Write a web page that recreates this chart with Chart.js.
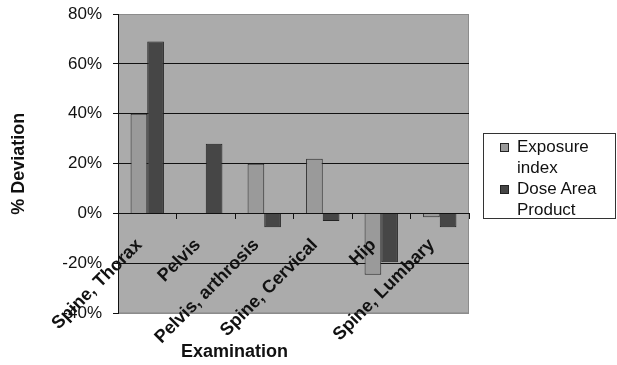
<!DOCTYPE html>
<html>
<head>
<meta charset="utf-8">
<script src="https://cdn.jsdelivr.net/npm/chart.js@4/dist/chart.umd.min.js"></script>
<style>
html, body { margin: 0; padding: 0; background: #fff; }
#wrap { position: relative; width: 617px; height: 365px; }
#legend { position: absolute; left: 483px; top: 133px; width: 133px; height: 86px; border: 1px solid #333;
  background: #fff; font: 17px "Liberation Sans", Arial, sans-serif; color: #111; padding-top: 2px; box-sizing: border-box; }
.item { position: relative; padding-left: 33px; line-height: 21px; }
.sw { position: absolute; left: 16px; top: 7px; width: 7px; height: 7px; border: 1px solid #222; }
</style>
</head>
<body>
<div id="wrap">
  <canvas id="chart" width="617" height="365"></canvas>
  <div id="legend"></div>
</div>
<script>
// data (% deviation)
var categories = ['Spine, Thorax', 'Pelvis', 'Pelvis, arthrosis', 'Spine, Cervical', 'Hip', 'Spine, Lumbary'];
var exposureIndex = [40, 0, 20, 22, -24.5, -1.5];
var doseAreaProduct = [69, 28, -5.5, -3, -19.5, -5.5];
var seriesNames = [['Exposure', 'index'], ['Dose Area', 'Product']];
var seriesColors = ['#9a9a9a', '#464646'];
var yMin = -40, yMax = 80, yStep = 20;

var font = '"Liberation Sans", Arial, sans-serif';

// grey plot area behind everything
var plotBg = {
  id: 'plotBg',
  beforeDraw: function(chart) {
    var ctx = chart.ctx, a = chart.chartArea;
    ctx.save();
    ctx.fillStyle = '#ababab';
    ctx.fillRect(a.left, a.top, a.right - a.left, a.bottom - a.top);
    ctx.strokeStyle = '#8c8c8c';
    ctx.lineWidth = 1;
    ctx.strokeRect(a.left + 0.5, a.top + 0.5, a.right - a.left - 1, a.bottom - a.top - 1);
    ctx.restore();
  }
};

var chart = new Chart(document.getElementById('chart'), {
  type: 'bar',
  data: {
    labels: categories,
    datasets: [{
      label: seriesNames[0].join(' '),
      data: exposureIndex,
      backgroundColor: seriesColors[0],
      borderColor: '#2a2a2a',
      borderWidth: 1
    }, {
      label: seriesNames[1].join(' '),
      data: doseAreaProduct,
      backgroundColor: seriesColors[1],
      borderColor: '#222',
      borderWidth: 1
    }]
  },
  options: {
    responsive: false,
    animation: false,
    devicePixelRatio: 1,
    categoryPercentage: 0.57,
    barPercentage: 1,
    layout: { padding: { left: 0, right: 148, top: 14, bottom: 2 } },
    plugins: {
      legend: { display: false },
      tooltip: { enabled: false },
      title: {
        display: true,
        position: 'bottom',
        text: 'Examination',
        color: '#111',
        font: { family: font, size: 18, weight: 'bold' },
        padding: { top: 28, bottom: 0 }
      }
    },
    scales: {
      x: {
        position: { y: 0 },
        offset: true,
        afterFit: function(scale) { scale.paddingTop = 0; scale.paddingBottom = 0; },
        grid: { display: true, drawOnChartArea: false, offset: true, tickLength: 5, color: '#111' },
        border: { display: true, color: '#111' },
        ticks: {
          z: 1, // labels over the bars, like the original
          autoSkip: false,
          minRotation: 45,
          maxRotation: 45,
          padding: 16,
          labelOffset: -8,
          color: '#111',
          font: { family: font, size: 18, weight: 'bold' }
        }
      },
      y: {
        min: yMin,
        max: yMax,
        afterFit: function(scale) { scale.width = 118; scale.paddingTop = 0; scale.paddingBottom = 0; },
        grid: {
          color: function(c) {
            if (c.tick && (c.tick.value === yMax || c.tick.value === yMin)) return '#8c8c8c';
            return '#111';
          },
          tickColor: '#111',
          tickLength: 5
        },
        border: { display: true, color: '#111' },
        ticks: {
          stepSize: yStep,
          padding: 11,
          color: '#111',
          font: { family: font, size: 17 },
          callback: function(v) { return v + '%'; }
        },
        title: {
          display: true,
          text: '% Deviation',
          color: '#111',
          font: { family: font, size: 18, weight: 'bold' },
          padding: { top: 8, bottom: 0 }
        }
      }
    }
  },
  plugins: [plotBg]
});

// legend with wrapped labels, like the original
var legend = document.getElementById('legend');
seriesNames.forEach(function(lines, i) {
  var item = document.createElement('div');
  item.className = 'item';
  item.innerHTML = '<span class="sw" style="background:' + seriesColors[i] + '"></span>' + lines.join('<br>');
  legend.appendChild(item);
});
</script>
</body>
</html>
